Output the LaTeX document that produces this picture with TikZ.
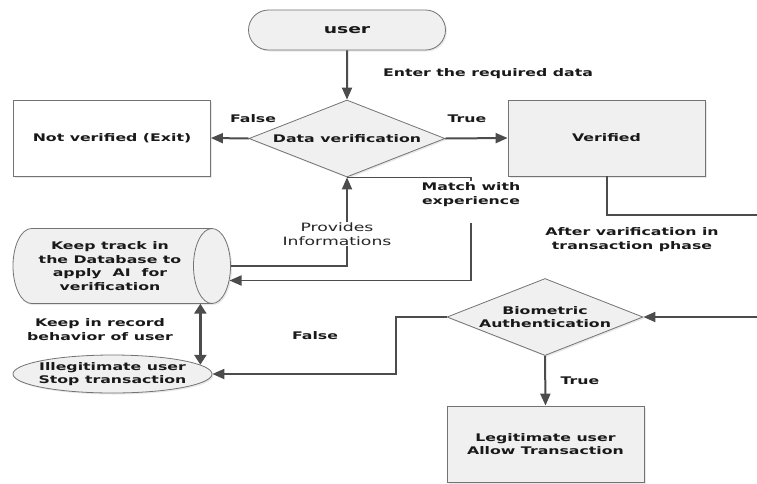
\documentclass[tikz,border=0pt]{standalone}
\usepackage{fontspec}
\setmainfont{DejaVu Sans}[FakeStretch=1.5]
\usetikzlibrary{shapes.geometric,shapes.misc,arrows.meta,shadows,calc}

\tikzset{
  shade/.style={drop shadow={opacity=0.18, shadow xshift=1.5pt, shadow yshift=-1.5pt}},
  skin/.style={draw=black!55, line width=0.8pt, fill=black!6},
  txt/.style={text=black!90, font=\bfseries\fontsize{10.5}{13.7}\selectfont,
    align=center, inner sep=0pt},
  box/.style={skin, txt, shade},
  rect/.style={box, rectangle, minimum width=197pt, minimum height=76pt},
  term/.style={box, rounded rectangle, minimum width=197pt, minimum height=40pt,
    font=\bfseries\fontsize{12.5}{14}\selectfont},
  dec/.style={box, diamond, aspect=2.55, inner xsep=-6pt,
    minimum width=196pt, minimum height=77pt},
  oval/.style={box, ellipse, inner xsep=-6pt, inner ysep=0pt,
    minimum width=199pt, minimum height=38pt},
  lbl/.style={font=\bfseries\fontsize{10.5}{14}\selectfont, text=black!90,
    align=center, inner sep=1pt},
  lblr/.style={font=\fontsize{11.5}{14}\selectfont, text=black!85,
    align=center, inner sep=1pt},
  flow/.style={draw=black!70, line width=2pt, -{Triangle[length=12pt,width=10pt]}},
  link/.style={draw=black!70, line width=1.8pt},
  dflow/.style={draw=black!70, line width=3.5pt,
    {Triangle[length=10pt,width=12pt]}-{Triangle[length=10pt,width=12pt]}}
}

\begin{document}
\begin{tikzpicture}[x=1pt, y=-1pt]
\useasboundingbox (0,0) rectangle (757,483);

% stored-data drum: a horizontal cylinder whose front face is on the right
\path[skin, shade] (31.5,228.5) arc[start angle=-90, end angle=-270, x radius=18.5, y radius=37.5]
  -- (212,303.5) arc[start angle=90, end angle=-90, x radius=18.5, y radius=37.5] -- cycle;
\draw[draw=black!55, line width=0.8pt]
  (212,228.5) arc[start angle=-90, end angle=-270, x radius=18.5, y radius=37.5];

% shapes
\node[term] (user) at (347,30) {user};
\node[dec] (dv) at (347,138.5) {Data verification};
\node[rect, fill=white] (nv) at (112,138) {Not verified (Exit)};
\node[rect] (ver) at (606.5,138) {Verified};
\node[minimum width=218pt, minimum height=75pt, inner sep=0pt] (db) at (121.5,266) {};
\node[txt, fill=black!6] (dbtext) at (110,266)
  {Keep track in\\the Database to\\apply\ \ AI\ \ for\\verification};
\node[oval] (ill) at (112.5,374) {Illegitimate user\\Stop transaction};
\node[dec] (bio) at (545,317) {Biometric\\Authentication};
\node[rect] (leg) at (545.5,444) {Legitimate user\\Allow Transaction};

% helper points of the routed connectors
\coordinate (offr) at (775,215);
\coordinate (mtop) at (471,181);
\coordinate (mbot) at (471,223);
\coordinate (dbin) at (229.5,280.5);

% connectors
\draw[flow] (user) -- (dv);
\draw[flow] (dv.west) -- (nv.east);
\draw[flow] (dv.east) -- (ver.west);
\draw[flow] (ver.south) |- (offr) |- (bio.east);
\draw[flow, line width=1.8pt] (db.east) -| (dv.south);
\draw[link] (dv.south) -| (mtop);
\draw[flow, line width=1.8pt] (mbot) |- (dbin);
\draw[flow] (bio.west) -- ++(-51,0) |- (ill.east);
\draw[flow] (bio.south) -- (leg.north);
\draw[dflow] (ill.6 |- db.south) -- (ill.6);

% labels
\node[lbl] (tenter) at (488,74) {Enter the required data};
\node[lbl] (tf1) at (253,119) {False};
\node[lbl] (tt1) at (467,119) {True};
\node[lbl] (tmatch) at (471,195) {Match with\\experience};
\node[lblr, fill=white] (tprov) at (337,234) {Provides\\Informations};
\node[lbl] (tafter) at (632,240) {After varification in\\transaction phase};
\node[lbl] (tkeep) at (100,330) {Keep in record\\behavior of user};
\node[lbl] (tf2) at (315,336) {False};
\node[lbl] (tt2) at (580,381) {True};
\end{tikzpicture}
\end{document}
